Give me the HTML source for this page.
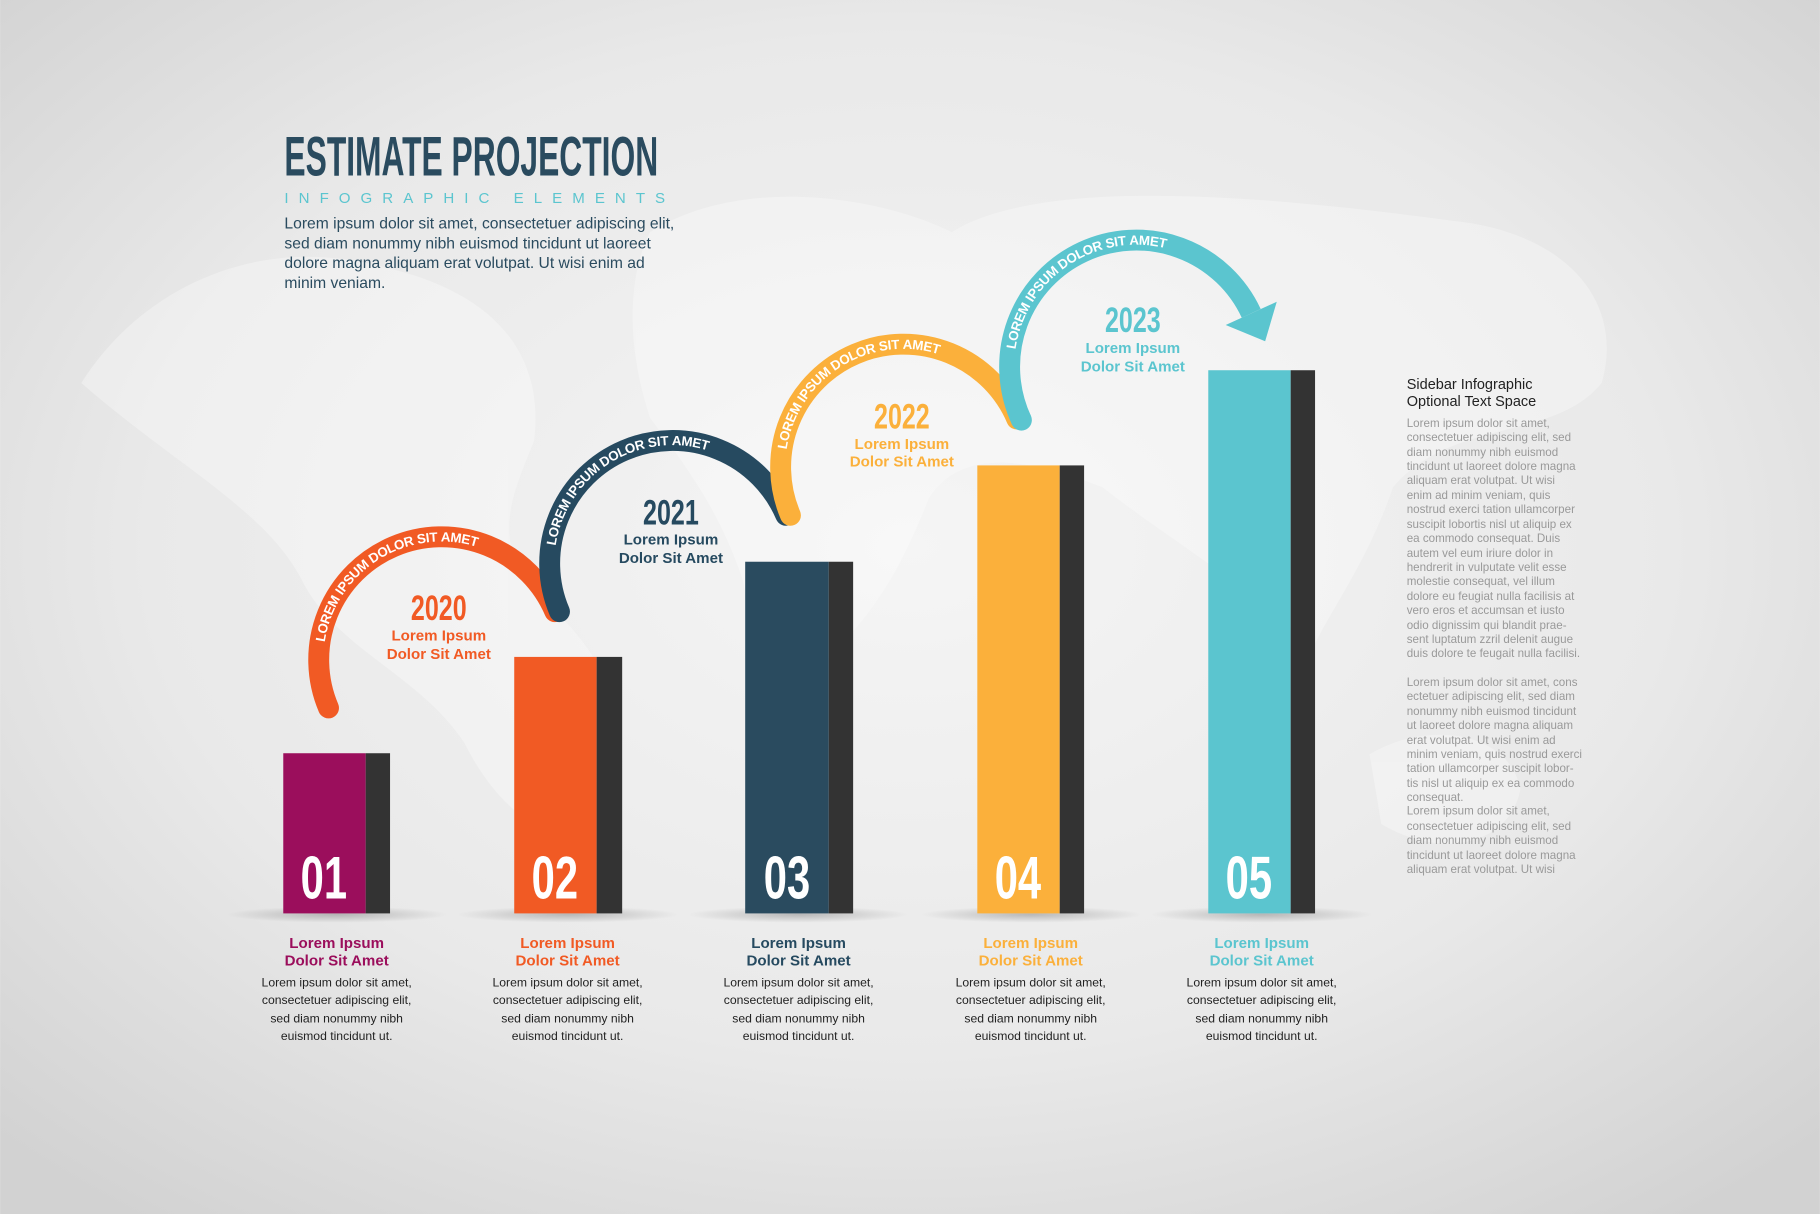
<!DOCTYPE html>
<html><head><meta charset="utf-8"><style>
html,body{margin:0;padding:0;width:1820px;height:1214px;overflow:hidden}
svg{display:block}
.cn{font-family:"Liberation Sans Narrow","Liberation Sans",sans-serif;font-weight:bold}
.s{font-family:"Liberation Sans",sans-serif}
</style></head><body>
<svg width="1820" height="1214" viewBox="0 0 1568 1046" xmlns="http://www.w3.org/2000/svg">
<defs>
<radialGradient id="bg" cx="50%" cy="45%" r="70%">
<stop offset="0" stop-color="#f5f5f5"/><stop offset="0.6" stop-color="#e9e9e9"/><stop offset="1" stop-color="#d2d2d2"/>
</radialGradient>
<radialGradient id="sh" cx="50%" cy="50%" r="50%">
<stop offset="0" stop-color="#000" stop-opacity="0.22"/><stop offset="1" stop-color="#000" stop-opacity="0"/>
</radialGradient>
<path id="a1" d="M283,610 A105,105 0 1 1 478,527"/>
<path id="a2" d="M482,527 A105,105 0 1 1 677,444"/>
<path id="a3" d="M681,444 A105,105 0 1 1 876,361"/>
<path id="a5" d="M880,362 A104,104 0 1 1 1078,270"/>
</defs>
<rect width="1568" height="1046" fill="url(#bg)"/>
<g fill="#fff" opacity="0.3">
<path d="M70,330 C120,250 220,200 330,230 C420,250 470,300 460,380 C440,430 420,470 470,520 C520,560 560,640 520,700 C480,740 430,700 400,640 C360,580 290,560 260,500 C230,440 150,400 70,330Z"/>
<path d="M560,200 C640,150 760,170 820,200 C900,150 1100,170 1250,190 C1350,200 1400,260 1380,330 C1340,380 1250,360 1200,420 C1180,480 1150,520 1130,560 C1100,520 1000,460 950,420 C900,400 830,380 800,430 C780,480 760,520 720,560 C690,600 650,560 640,500 C620,440 590,400 560,360 C540,300 540,240 560,200Z"/>
<path d="M1180,650 C1230,620 1300,630 1310,680 C1300,730 1240,740 1190,710Z"/>
</g>
<!-- title -->
<text class="cn" x="245" y="151" font-size="48" fill="#2a4b5f" textLength="322" lengthAdjust="spacingAndGlyphs">ESTIMATE PROJECTION</text>
<text class="s" x="245" y="175" font-size="13" fill="#5bc5cf" textLength="340" letter-spacing="12">INFOGRAPHIC ELEMENTS</text>
<g class="s" font-size="13.5" fill="#2a4b5f">
<text x="245" y="197">Lorem ipsum dolor sit amet, consectetuer adipiscing elit,</text>
<text x="245" y="214">sed diam nonummy nibh euismod tincidunt ut laoreet</text>
<text x="245" y="231">dolore magna aliquam erat volutpat. Ut wisi enim ad</text>
<text x="245" y="248">minim veniam.</text>
</g>
<!-- shadows -->
<g fill="url(#sh)">
<ellipse cx="290" cy="788" rx="95" ry="7"/><ellipse cx="489" cy="788" rx="95" ry="7"/><ellipse cx="688" cy="788" rx="95" ry="7"/><ellipse cx="888" cy="788" rx="95" ry="7"/><ellipse cx="1087" cy="788" rx="95" ry="7"/>
</g>
<!-- bars -->
<rect x="244" y="649" width="71" height="138" fill="#9b0e5c"/><rect x="315" y="649" width="21" height="138" fill="#333"/>
<rect x="443" y="566" width="71" height="221" fill="#f15a24"/><rect x="514" y="566" width="22" height="221" fill="#333"/>
<rect x="642" y="484" width="72" height="303" fill="#2a4b5f"/><rect x="714" y="484" width="21" height="303" fill="#333"/>
<rect x="842" y="401" width="71" height="386" fill="#fbb03b"/><rect x="913" y="401" width="21" height="386" fill="#333"/>
<rect x="1041" y="319" width="71" height="468" fill="#5bc5cf"/><rect x="1112" y="319" width="21" height="468" fill="#333"/>
<g class="cn" font-size="52" fill="#fff" font-weight="normal">
<text x="259" y="774" textLength="40" lengthAdjust="spacingAndGlyphs">01</text>
<text x="458" y="774" textLength="40" lengthAdjust="spacingAndGlyphs">02</text>
<text x="658" y="774" textLength="40" lengthAdjust="spacingAndGlyphs">03</text>
<text x="857" y="774" textLength="40" lengthAdjust="spacingAndGlyphs">04</text>
<text x="1056" y="774" textLength="40" lengthAdjust="spacingAndGlyphs">05</text>
</g>
<!-- arcs -->
<g fill="none" stroke-width="18" stroke-linecap="round">
<use href="#a1" stroke="#f15a24"/><use href="#a2" stroke="#264a60"/><use href="#a3" stroke="#fbb03b"/>
</g>
<use href="#a5" fill="none" stroke="#5bc5cf" stroke-width="18"/>
<path d="M880,362 l0,0" stroke="#5bc5cf" stroke-width="18" stroke-linecap="round"/>
<polygon points="1056,280 1100,260 1090,294" fill="#5bc5cf"/>
<g class="s" font-size="11.5" font-weight="bold" fill="#fff">
<text dy="4"><textPath href="#a1" startOffset="45%" text-anchor="middle">LOREM IPSUM DOLOR SIT AMET</textPath></text>
<text dy="4"><textPath href="#a2" startOffset="45%" text-anchor="middle">LOREM IPSUM DOLOR SIT AMET</textPath></text>
<text dy="4"><textPath href="#a3" startOffset="45%" text-anchor="middle">LOREM IPSUM DOLOR SIT AMET</textPath></text>
<text dy="4"><textPath href="#a5" startOffset="45%" text-anchor="middle">LOREM IPSUM DOLOR SIT AMET</textPath></text>
</g>
<!-- year labels -->
<g class="cn" font-size="30" font-weight="normal">
<text x="354" y="534" fill="#f15a24" textLength="48" lengthAdjust="spacingAndGlyphs">2020</text>
<text x="554" y="452" fill="#264a60" textLength="48" lengthAdjust="spacingAndGlyphs">2021</text>
<text x="753" y="369" fill="#fbb03b" textLength="48" lengthAdjust="spacingAndGlyphs">2022</text>
<text x="952" y="286" fill="#5bc5cf" textLength="48" lengthAdjust="spacingAndGlyphs">2023</text>
</g>
<g text-anchor="middle" class="s" font-size="13" font-weight="bold">
<g fill="#f15a24"><text x="378" y="552">Lorem Ipsum</text><text x="378" y="568">Dolor Sit Amet</text></g>
<g fill="#264a60"><text x="578" y="469">Lorem Ipsum</text><text x="578" y="485">Dolor Sit Amet</text></g>
<g fill="#fbb03b"><text x="777" y="387">Lorem Ipsum</text><text x="777" y="402">Dolor Sit Amet</text></g>
<g fill="#5bc5cf"><text x="976" y="304">Lorem Ipsum</text><text x="976" y="320">Dolor Sit Amet</text></g>
</g>
<!-- bottom labels -->
<g class="s" text-anchor="middle" font-size="13" font-weight="bold">
<g fill="#9b0e5c"><text x="290" y="817">Lorem Ipsum</text><text x="290" y="832">Dolor Sit Amet</text></g>
<g fill="#f15a24"><text x="489" y="817">Lorem Ipsum</text><text x="489" y="832">Dolor Sit Amet</text></g>
<g fill="#264a60"><text x="688" y="817">Lorem Ipsum</text><text x="688" y="832">Dolor Sit Amet</text></g>
<g fill="#fbb03b"><text x="888" y="817">Lorem Ipsum</text><text x="888" y="832">Dolor Sit Amet</text></g>
<g fill="#5bc5cf"><text x="1087" y="817">Lorem Ipsum</text><text x="1087" y="832">Dolor Sit Amet</text></g>
</g>
<g class="s" text-anchor="middle" font-size="10.5" fill="#222">
<g id="bt"><text x="290" y="850">Lorem ipsum dolor sit amet,</text><text x="290" y="865">consectetuer adipiscing elit,</text><text x="290" y="881">sed diam nonummy nibh</text><text x="290" y="896">euismod tincidunt ut.</text></g>
<use href="#bt" x="199"/><use href="#bt" x="398"/><use href="#bt" x="598"/><use href="#bt" x="797"/>
</g>
<!-- sidebar -->
<g class="s" font-size="12.5" fill="#222"><text x="1212" y="335">Sidebar Infographic</text><text x="1212" y="350">Optional Text Space</text></g>
<g class="s" font-size="10" fill="#999">
<text x="1212" y="368">Lorem ipsum dolor sit amet,</text>
<text x="1212" y="380">consectetuer adipiscing elit, sed</text>
<text x="1212" y="393">diam nonummy nibh euismod</text>
<text x="1212" y="405">tincidunt ut laoreet dolore magna</text>
<text x="1212" y="417">aliquam erat volutpat. Ut wisi</text>
<text x="1212" y="430">enim ad minim veniam, quis</text>
<text x="1212" y="442">nostrud exerci tation ullamcorper</text>
<text x="1212" y="455">suscipit lobortis nisl ut aliquip ex</text>
<text x="1212" y="467">ea commodo consequat. Duis</text>
<text x="1212" y="480">autem vel eum iriure dolor in</text>
<text x="1212" y="492">hendrerit in vulputate velit esse</text>
<text x="1212" y="504">molestie consequat, vel illum</text>
<text x="1212" y="517">dolore eu feugiat nulla facilisis at</text>
<text x="1212" y="529">vero eros et accumsan et iusto</text>
<text x="1212" y="542">odio dignissim qui blandit prae-</text>
<text x="1212" y="554">sent luptatum zzril delenit augue</text>
<text x="1212" y="566">duis dolore te feugait nulla facilisi.</text>
<text x="1212" y="591">Lorem ipsum dolor sit amet, cons</text>
<text x="1212" y="603">ectetuer adipiscing elit, sed diam</text>
<text x="1212" y="616">nonummy nibh euismod tincidunt</text>
<text x="1212" y="628">ut laoreet dolore magna aliquam</text>
<text x="1212" y="641">erat volutpat. Ut wisi enim ad</text>
<text x="1212" y="653">minim veniam, quis nostrud exerci</text>
<text x="1212" y="665">tation ullamcorper suscipit lobor-</text>
<text x="1212" y="678">tis nisl ut aliquip ex ea commodo</text>
<text x="1212" y="690">consequat.</text>
<text x="1212" y="702">Lorem ipsum dolor sit amet,</text>
<text x="1212" y="715">consectetuer adipiscing elit, sed</text>
<text x="1212" y="727">diam nonummy nibh euismod</text>
<text x="1212" y="740">tincidunt ut laoreet dolore magna</text>
<text x="1212" y="752">aliquam erat volutpat. Ut wisi</text>
</g>
</svg>
</body></html>
